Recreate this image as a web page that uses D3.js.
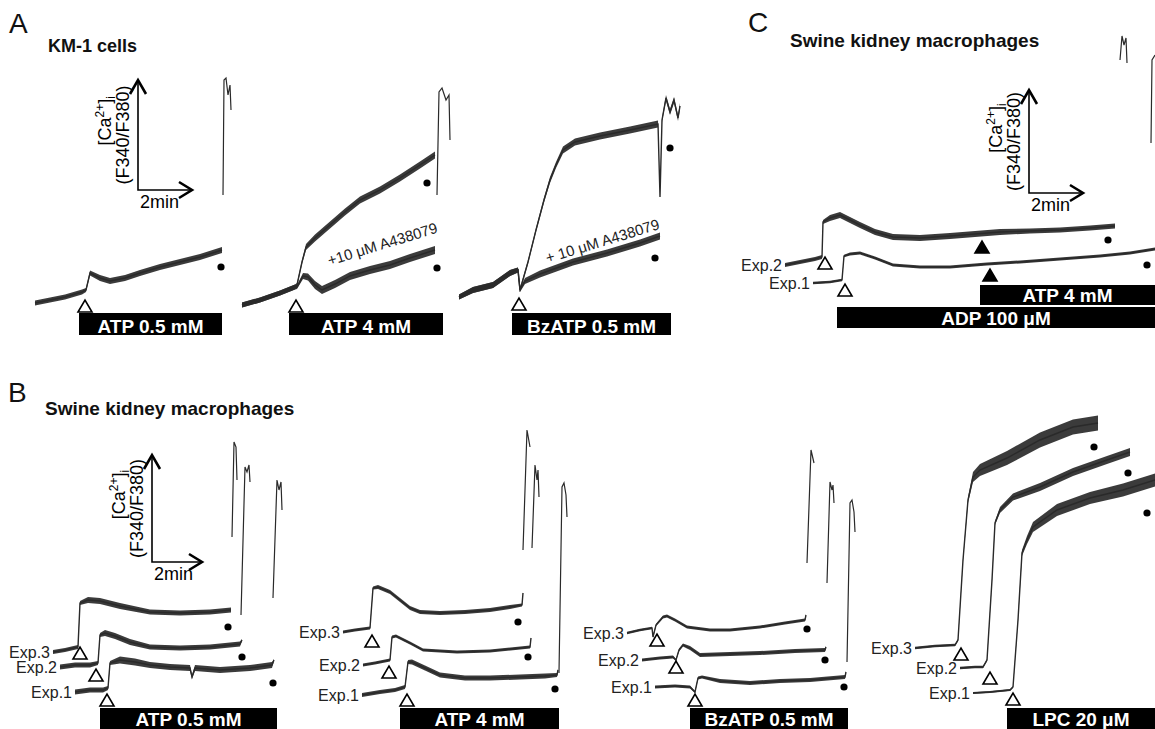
<!DOCTYPE html>
<html>
<head>
<meta charset="utf-8">
<script src="https://cdn.jsdelivr.net/npm/d3@7"></script>
<style>
body { margin: 0; background: #fff; }
text { font-family: "Liberation Sans", Arial, Helvetica, sans-serif; }
</style>
</head>
<body>
<script>
// every trace point is [minutes, change of F340/F380, noise half-width]
// spikes (ionomycin calibration) are [minutes, change]

// ---- A: KM-1 cells
var aAtp05 = [[0,0,.025],[.6,.03,.025],[1.2,.06,.025],[1.88,.11,.025],[2.04,.13,.02],[2.2,.30,.025],[2.6,.25,.03],[3.0,.22,.03],[3.6,.25,.03],[4.2,.30,.03],[5.0,.36,.03],[5.8,.41,.03],[6.6,.46,.03],[7.48,.53,.03]];
var aAtp05Spike = [[7.52,1.08],[7.56,2.23],[7.64,2.25],[7.72,2.08],[7.8,2.18],[7.84,1.93]];
var aAtp4 = [[0,0,.025],[.72,.05,.025],[1.52,.12,.025],[2.12,.18,.025],[2.2,.20,.02],[2.4,.43,.02],[2.56,.58,.03],[2.92,.67,.035],[3.52,.80,.035],[4.12,.93,.035],[4.72,1.05,.035],[5.52,1.15,.035],[6.32,1.27,.035],[7.12,1.40,.035],[7.72,1.50,.035]];
var aAtp4Blocked = [[0,0,.025],[.72,.05,.025],[1.52,.12,.025],[2.12,.18,.025],[2.2,.18,.02],[2.44,.29,.03],[2.64,.28,.035],[2.92,.20,.04],[3.2,.15,.04],[3.72,.21,.04],[4.32,.29,.04],[5.12,.35,.04],[5.92,.40,.04],[6.72,.47,.04],[7.72,.55,.04]];
var aAtp4Spike = [[7.8,1.10],[7.88,2.13],[8.0,2.17],[8.16,2.05],[8.28,2.10],[8.32,1.65]];
var aBz = [[0,0,.025],[.56,.07,.03],[1.36,.12,.03],[2.04,.24,.03],[2.36,.27,.025],[2.44,.07,.02],[2.76,.35,.02],[3.08,.67,.02],[3.4,.97,.025],[3.64,1.17,.03],[3.88,1.32,.03],[4.16,1.47,.035],[4.64,1.55,.035],[5.64,1.61,.035],[6.84,1.67,.035],[7.96,1.73,.035],[8.04,1.0,0],[8.12,1.77,.02],[8.28,1.99,.03],[8.44,1.85,.03],[8.6,1.97,.03],[8.76,1.79,.03],[8.84,1.91,.03]];
var aBzBlocked = [[0,0,.025],[.56,.07,.03],[1.36,.12,.03],[2.04,.24,.03],[2.36,.27,.025],[2.44,.07,.02],[2.64,.16,.03],[3.24,.23,.035],[4.56,.35,.035],[5.92,.44,.035],[7.24,.54,.035],[8.04,.61,.035]];
var aStim = [[2.0,-.03],[2.16,-.01],[2.4,-.07]];
var aDots = [[7.44,.36],[7.4,1.22],[7.8,.37],[8.44,1.49],[7.84,.39]];
var aBars = [["ATP 0.5 mM",1.76,7.48],["ATP 4 mM",1.88,8.04],["BzATP 0.5 mM",2.12,8.48]];

// ---- C: ADP then ATP
var cExp2 = [[0,0,.02],[.6,.03,.02],[1.2,.06,.02],[1.48,.08,.02],[1.52,.43,.02],[1.8,.47,.03],[2.2,.50,.03],[2.6,.45,.03],[3.0,.40,.03],[3.6,.33,.03],[4.32,.28,.03],[5.4,.27,.03],[6.6,.29,.03],[7.6,.31,.03],[8.6,.33,.03],[9.8,.34,.025],[11.0,.35,.025],[12.2,.37,.025],[13.2,.39,.025]];
var cExp2Spike = [[13.4,2.05],[13.48,2.29],[13.56,2.20],[13.64,2.27],[13.68,2.02]];
var cExp1 = [[0,0,.012],[.68,.01,.012],[1.16,.03,.012],[1.24,.27,.012],[1.48,.29,.015],[1.88,.30,.015],[2.48,.25,.015],[3.2,.18,.015],[4.28,.16,.015],[5.48,.16,.015],[6.96,.19,.015],[8.28,.21,.015],[9.88,.24,.015],[11.48,.27,.015],[12.68,.30,.015],[13.68,.34,.015]];
var cExp1Spike = [[13.52,1.40],[13.56,2.23],[13.68,2.28]];
var cStim = [[1.6,.02],[1.28,-.07]];
var cAtpStim = [[7.88,.18],[7.08,.08]];
var cDots = [[12.92,.25],[13.36,.18]];
var cBars = [["ATP 4 mM",6.68,13.68],["ADP 100 \u03bcM",0.96,13.68]];

// ---- B: swine kidney macrophages, Exp.3 / Exp.2 / Exp.1
var bAtp05Exp3 = [[0,0,.02],[.48,.02,.02],[1.0,.05,.02],[1.08,.49,.02],[1.4,.52,.03],[1.88,.51,.03],[2.68,.46,.03],[3.88,.40,.025],[5.08,.39,.025],[6.28,.40,.025],[7.12,.42,.025]];
var bAtp05Exp2 = [[0,0,.025],[.6,.02,.025],[1.2,.02,.025],[1.52,.04,.02],[1.6,.32,.02],[1.8,.34,.03],[2.2,.31,.03],[2.8,.25,.03],[3.6,.20,.025],[4.8,.19,.025],[6.0,.20,.025],[7.2,.23,.025],[7.28,.27,.01]];
var bAtp05Exp1 = [[0,0,.025],[.6,.02,.025],[1.12,.02,.025],[1.32,.04,.02],[1.4,.29,.02],[1.8,.32,.035],[2.4,.30,.035],[3.0,.27,.03],[3.8,.25,.03],[4.6,.24,.03],[4.68,.15,.02],[4.8,.24,.03],[5.8,.22,.03],[7.0,.24,.03],[7.88,.27,.03],[7.96,.32,.01]];
var bAtp05Spikes = [[[7.16,1.15],[7.24,2.10],[7.32,2.05],[7.36,1.72]],[[7.24,.52],[7.4,2.0],[7.48,1.95],[7.56,2.02],[7.6,1.85]],[[7.92,.94],[8.08,2.12],[8.16,2.02],[8.24,2.10],[8.28,1.82]]];
var bAtp05Stim = [[1.08,-.01],[1.44,-.08],[1.28,-.08]];
var bAtp05Dots = [[7.0,.25],[7.28,.10],[7.92,.09]];

var bAtp4Exp3 = [[0,0,.015],[.48,.02,.015],[1.08,.04,.015],[1.2,.44,.015],[1.4,.45,.02],[1.88,.40,.02],[2.28,.32,.02],[2.68,.24,.02],[3.08,.20,.02],[3.88,.19,.02],[4.88,.20,.02],[5.88,.22,.02],[6.68,.25,.02],[7.16,.27,.015],[7.2,.39,.01]];
var bAtp4Exp2 = [[0,0,.015],[.48,.02,.015],[1.08,.05,.015],[1.16,.28,.015],[1.32,.29,.015],[1.88,.22,.015],[2.4,.15,.015],[3.76,.13,.015],[5.08,.14,.015],[6.68,.18,.015],[6.72,.27,.01]];
var bAtp4Exp1 = [[0,0,.02],[.72,.03,.02],[1.32,.05,.02],[1.72,.08,.02],[1.84,.33,.02],[2.0,.33,.025],[2.52,.27,.025],[3.12,.20,.025],[4.12,.17,.025],[5.12,.17,.025],[6.32,.18,.025],[7.32,.19,.025],[7.8,.20,.02],[7.84,.25,.01]];
var bAtp4Spikes = [[[7.2,.82],[7.36,2.02],[7.48,1.85]],[[6.76,1.17],[6.88,2.0],[6.96,1.85],[7.0,1.95],[7.04,1.68]],[[7.88,.22],[8.0,2.08],[8.08,2.12],[8.16,2.0],[8.2,1.78]]];
var bAtp4Stim = [[1.16,-.09],[1.04,-.07],[1.8,-.05]];
var bAtp4Dots = [[7.0,.10],[6.6,.08],[7.72,.06]];

var bBzExp3 = [[0,0,.012],[.52,.03,.012],[1.0,.05,.012],[1.04,-.04,.01],[1.16,.08,.012],[1.44,.16,.015],[1.6,.17,.015],[1.92,.13,.015],[2.4,.06,.015],[3.32,.03,.015],[4.12,.03,.015],[5.32,.06,.015],[6.32,.10,.015],[7.12,.13,.015],[7.16,.18,.01]];
var bBzExp2 = [[0,0,.015],[.72,.02,.015],[1.24,.03,.015],[1.36,0,.01],[1.48,.10,.015],[1.64,.15,.015],[1.92,.12,.02],[2.32,.05,.02],[3.52,.06,.02],[4.72,.07,.02],[6.12,.09,.02],[7.32,.10,.02],[7.36,.13,.01]];
var bBzExp1 = [[0,0,.015],[.8,.01,.015],[1.4,0,.015],[1.6,-.05,.01],[1.72,.09,.015],[1.88,.10,.015],[2.6,.06,.02],[3.8,.04,.02],[5.0,.06,.02],[6.2,.07,.02],[7.6,.10,.02],[7.64,.15,.01]];
var bBzSpikes = [[[7.2,.70],[7.36,1.83],[7.48,1.70]],[[7.4,.77],[7.52,1.78],[7.6,1.70],[7.64,1.75],[7.68,1.57]],[[7.68,.25],[7.8,1.84],[7.88,1.87],[7.96,1.75],[8.0,1.55]]];
var bBzStim = [[1.2,-.07],[1.36,-.07],[1.6,-.13]];
var bBzDots = [[7.2,.04],[7.32,0],[7.56,0]];

var bLpcExp3 = [[0,0,.012],[.8,.02,.012],[1.6,.03,.012],[1.72,.08,.012],[1.92,.88,.015],[2.12,1.48,.03],[2.32,1.71,.05],[2.6,1.78,.06],[3.68,1.90,.07],[5.0,2.08,.075],[6.32,2.21,.075],[7.32,2.25,.075]];
var bLpcExp2 = [[0,0,.012],[.6,.01,.012],[.92,.01,.012],[1.08,.08,.012],[1.28,.88,.015],[1.4,1.45,.02],[1.6,1.58,.03],[2.12,1.71,.035],[3.2,1.81,.04],[4.52,1.96,.04],[5.88,2.08,.04],[6.8,2.16,.04]];
var bLpcExp1 = [[0,0,.01],[.68,.01,.01],[1.48,.03,.01],[1.6,.06,.01],[1.8,.73,.015],[1.96,1.40,.03],[2.16,1.53,.04],[2.4,1.66,.05],[3.36,1.83,.06],[4.68,1.95,.06],[6.0,2.03,.065],[7.28,2.13,.065]];
var bLpcStim = [[1.84,-.06],[1.2,-.10],[1.6,-.06]];
var bLpcDots = [[7.16,2.01],[6.72,1.95],[6.96,1.80]];

var bBars = [["ATP 0.5 mM",1.0,8.08],["ATP 4 mM",1.52,7.88],["BzATP 0.5 mM",1.4,7.72],["LPC 20 \u03bcM",1.36,7.28]];
var expNames = ["Exp.3","Exp.2","Exp.1"];
var scaleBarMin = 2;

// ---- drawing
var width = 1155, height = 729;
var ink = "#2a2a2a";

var svg = d3.select("body").append("svg")
	.attr("width", width)
	.attr("height", height);

var x = d3.scaleLinear().domain([0, 1]).range([0, 25]);   // 25 px per minute
var y = d3.scaleLinear().domain([0, 1]).range([0, -100]); // ratio change upwards

var band = d3.area()
	.x(function(d){return x(d[0])})
	.y0(function(d){return y(d[1] - d[2])})
	.y1(function(d){return y(d[1] + d[2])});
var line = d3.line()
	.x(function(d){return x(d[0])})
	.y(function(d){return y(d[1])});

function place(o){
	return svg.append("g").attr("transform", "translate(" + o[0] + "," + o[1] + ")");
}

function drawTrace(o, pts, label){
	var g = place(o);
	g.append("path").attr("d", band(pts)).attr("fill", ink).attr("fill-opacity", 0.92).attr("stroke", "none");
	g.append("path").attr("d", line(pts)).attr("fill", "none").attr("stroke", ink).attr("stroke-width", 1.4);
	if(label){
		g.append("text").attr("x", -3).attr("y", 6).attr("text-anchor", "end")
			.attr("font-size", 16).attr("fill", "#222").text(label);
	}
}

function drawSpike(o, pts){
	place(o).append("path").attr("d", line(pts)).attr("fill", "none")
		.attr("stroke", ink).attr("stroke-width", 1.2);
}

function drawStim(o, p, filled){
	place(o).append("path")
		.attr("transform", "translate(" + x(p[0]) + "," + y(p[1]) + ")")
		.attr("d", "M-7,6L7,6L0,-6Z")
		.attr("fill", filled ? "#000" : "#fff")
		.attr("stroke", "#000").attr("stroke-width", 1.6)
		.attr("stroke-linejoin", "miter");
}

function drawDot(o, p){
	place(o).append("circle").attr("cx", x(p[0])).attr("cy", y(p[1])).attr("r", 3.6).attr("fill", "#000");
}

function drawBar(o, b, top, h, baseline){
	var g = place([o[0], 0]);
	var x0 = x(b[1]), x1 = Math.min(x(b[2]), width - o[0]);
	g.append("rect").attr("x", x0).attr("y", top).attr("width", x1 - x0).attr("height", h).attr("fill", "#000");
	g.append("text").attr("x", (x(b[1]) + x(b[2])) / 2).attr("y", baseline)
		.attr("text-anchor", "middle").attr("font-size", 19).attr("font-weight", "bold")
		.attr("fill", "#fff").text(b[0]);
}

function drawAxes(o, tip, vLen){
	var g = place(o);
	var hx = x(scaleBarMin) + tip;
	g.append("path").attr("d", "M0," + (-vLen) + "V0H" + hx)
		.attr("fill", "none").attr("stroke", "#000").attr("stroke-width", 1.6);
	g.append("path").attr("d", "M-8," + (-vLen + 14) + "L0," + (-vLen) + "L8," + (-vLen + 14))
		.attr("fill", "none").attr("stroke", "#000").attr("stroke-width", 2.6);
	g.append("path").attr("d", "M" + (hx - 13) + ",-8L" + hx + ",0L" + (hx - 13) + ",8")
		.attr("fill", "none").attr("stroke", "#000").attr("stroke-width", 2.6);
	g.append("text").attr("x", 2).attr("y", 18).attr("font-size", 18).text(scaleBarMin + "min");
	var t1 = g.append("text").attr("transform", "translate(-27," + (-vLen * 0.63) + ") rotate(-90)")
		.attr("text-anchor", "middle").attr("font-size", 18);
	t1.append("tspan").text("[Ca");
	t1.append("tspan").attr("font-size", 12).attr("dy", -7).text("2+");
	t1.append("tspan").attr("dy", 7).text("]");
	t1.append("tspan").attr("font-size", 12).attr("dy", 4).text("i");
	g.append("text").attr("transform", "translate(-9," + (-vLen * 0.5) + ") rotate(-90)")
		.attr("text-anchor", "middle").attr("font-size", 18).text("(F340/F380)");
}

function rotLabel(o, p, txt){
	place(o).append("text")
		.attr("transform", "translate(" + x(p[0]) + "," + y(p[1]) + ") rotate(-17)")
		.attr("text-anchor", "middle").attr("font-size", 15).attr("fill", "#222").text(txt);
}

// panel letters and titles
function heading(px, py, txt, size, weight){
	svg.append("text").attr("x", px).attr("y", py).attr("font-size", size)
		.attr("font-weight", weight).attr("fill", "#111").text(txt);
}
heading(9, 33, "A", 28, "normal");
heading(748, 32, "C", 28, "normal");
heading(8, 402, "B", 28, "normal");
heading(48, 52, "KM-1 cells", 18, "bold");
heading(790, 47, "Swine kidney macrophages", 19, "bold");
heading(45, 415, "Swine kidney macrophages", 19, "bold");

// ---- panel A layout
var aOrigins = [[35,303],[242,305],[459,297]];
drawAxes([138,190], 4, 110);
drawTrace(aOrigins[0], aAtp05);
drawSpike(aOrigins[0], aAtp05Spike);
drawTrace(aOrigins[1], aAtp4);
drawTrace(aOrigins[1], aAtp4Blocked);
drawSpike(aOrigins[1], aAtp4Spike);
drawTrace(aOrigins[2], aBz);
drawTrace(aOrigins[2], aBzBlocked);
aStim.forEach(function(p, i){ drawStim(aOrigins[i], p, false); });
drawDot(aOrigins[0], aDots[0]);
drawDot(aOrigins[1], aDots[1]);
drawDot(aOrigins[1], aDots[2]);
drawDot(aOrigins[2], aDots[3]);
drawDot(aOrigins[2], aDots[4]);
aBars.forEach(function(b, i){ drawBar(aOrigins[i], b, 313, 22, 333); });
rotLabel(aOrigins[1], [5.68, .56], "+10 \u03bcM A438079");
rotLabel(aOrigins[2], [5.8, .51], "+ 10 \u03bcM A438079");

// ---- panel C layout
var cOrigins = [[785,265],[813,283]];
drawAxes([1029,193], 4, 103);
drawTrace(cOrigins[0], cExp2, "Exp.2");
drawTrace(cOrigins[1], cExp1, "Exp.1");
drawSpike(cOrigins[0], cExp2Spike);
drawSpike(cOrigins[1], cExp1Spike);
cStim.forEach(function(p, i){ drawStim(cOrigins[i], p, false); });
cAtpStim.forEach(function(p, i){ drawStim(cOrigins[i], p, true); });
cDots.forEach(function(p, i){ drawDot(cOrigins[i], p); });
drawBar(cOrigins[1], cBars[0], 285, 20, 302);
drawBar(cOrigins[1], cBars[1], 307, 21, 325);

// ---- panel B layout
drawAxes([152,562], 0, 107);
var bSets = [
	{origins: [[53,652],[60,667],[75,692]], traces: [bAtp05Exp3, bAtp05Exp2, bAtp05Exp1], spikes: bAtp05Spikes, stim: bAtp05Stim, dots: bAtp05Dots},
	{origins: [[343,632],[363,665],[362,695]], traces: [bAtp4Exp3, bAtp4Exp2, bAtp4Exp1], spikes: bAtp4Spikes, stim: bAtp4Stim, dots: bAtp4Dots},
	{origins: [[627,633],[642,660],[655,687]], traces: [bBzExp3, bBzExp2, bBzExp1], spikes: bBzSpikes, stim: bBzStim, dots: bBzDots},
	{origins: [[915,648],[960,668],[973,693]], traces: [bLpcExp3, bLpcExp2, bLpcExp1], spikes: [], stim: bLpcStim, dots: bLpcDots}
];
bSets.forEach(function(s, k){
	s.traces.forEach(function(t, i){
		drawTrace(s.origins[i], t, expNames[i]);
		if(s.spikes[i]) drawSpike(s.origins[i], s.spikes[i]);
		drawStim(s.origins[i], s.stim[i], false);
		drawDot(s.origins[i], s.dots[i]);
	});
	drawBar(s.origins[2], bBars[k], 708, 21, 726);
});
</script>
</body>
</html>
